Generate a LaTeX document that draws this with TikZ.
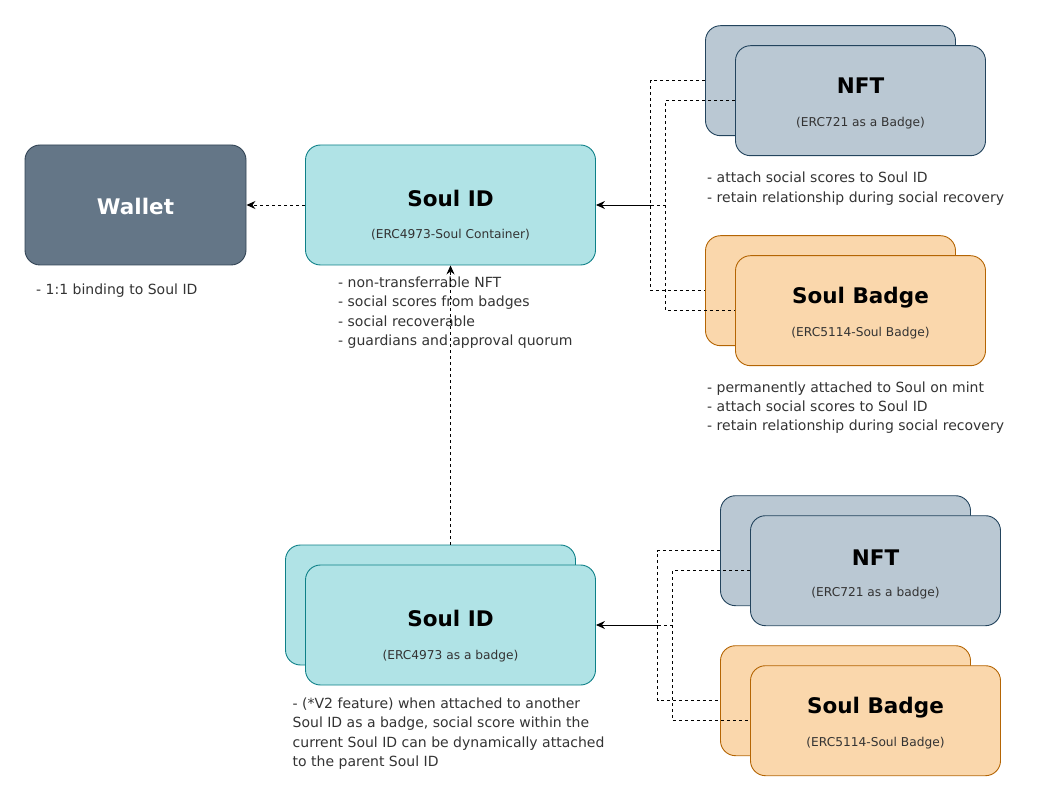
\documentclass[tikz,border=0pt]{standalone}
\usepackage{fontspec}
\setmainfont{DejaVu Sans}
\usetikzlibrary{arrows.meta}
\definecolor{walletfill}{HTML}{647687}
\definecolor{walletline}{HTML}{314354}
\definecolor{soulfill}{HTML}{B0E3E6}
\definecolor{soulline}{HTML}{0E8088}
\definecolor{nftfill}{HTML}{BAC8D3}
\definecolor{nftline}{HTML}{23445D}
\definecolor{badgefill}{HTML}{FAD7AC}
\definecolor{badgeline}{HTML}{B46504}
\begin{document}
\begin{tikzpicture}[x=1pt,y=-1pt,
	card/.style={draw, rounded corners=15pt, line width=0.9pt, minimum width=250pt, minimum height=110pt, inner sep=0pt},
	wide/.style={minimum width=290pt, minimum height=120pt},
	nftcard/.style={card, fill=nftfill, draw=nftline},
	badgecard/.style={card, fill=badgefill, draw=badgeline},
	soulcard/.style={card, wide, fill=soulfill, draw=soulline},
	title/.style={anchor=base, inner sep=0pt, font=\fontsize{21.5}{26}\selectfont\bfseries},
	sub/.style={anchor=base, inner sep=0pt, font=\fontsize{12.2}{15}\selectfont, text=black!80},
	note/.style={anchor=base west, align=left, inner sep=0pt, font=\fontsize{14}{19.5}\selectfont, text=black!80},
	tip/.style={-{Stealth[length=9pt,width=8pt,inset=3pt]}},
	link/.style={line width=0.9pt, tip},
	dashlink/.style={line width=0.9pt, dash pattern=on 3pt off 3pt}]
		\useasboundingbox (0,0) rectangle (1061,802);
		%wallet
		\node[card, fill=walletfill, draw=walletline, minimum width=221pt, minimum height=120pt] (wallet) at (135.5,205) {};
		\node[title, text=white] (walletT) at (135.5,214.3) {Wallet};
		\node[note] (walletN) at (36,294.3) {- 1:1 binding to Soul ID};
		%soul id container (notes are placed by their last line)
		\node[soulcard] (soulTop) at (450.5,205) {};
		\node[title] (soulTopT) at (450.5,206.7) {Soul ID};
		\node[sub] (soulTopS) at (450.5,239) {(ERC4973-Soul Container)};
		\node[note] (soulTopN) at (338,346) {- non-transferrable NFT\\- social scores from badges\\- social recoverable\\- guardians and approval quorum};
		%badges on the container
		\node[nftcard] (nftBackA) at (830.5,80.7) {};
		\node[nftcard] (nftFrontA) at (860.5,100.7) {};
		\node[title] (nftTA) at (860.5,94) {NFT};
		\node[sub] (nftSA) at (860.5,126.5) {(ERC721 as a Badge)};
		\node[note] (nftNA) at (707,202.3) {- attach social scores to Soul ID\\- retain relationship during social recovery};
		\node[badgecard] (badgeBackA) at (830.5,290.7) {};
		\node[badgecard] (badgeFrontA) at (860.5,310.7) {};
		\node[title] (badgeTA) at (860.5,304) {Soul Badge};
		\node[sub] (badgeSA) at (860.5,336.5) {(ERC5114-Soul Badge)};
		\node[note] (badgeNA) at (707,431) {- permanently attached to Soul on mint\\- attach social scores to Soul ID\\- retain relationship during social recovery};
		%soul id used as a badge
		\node[soulcard] (soulBack) at (430.5,605) {};
		\node[soulcard] (soulFront) at (450.5,625) {};
		\node[title] (soulFrontT) at (450.5,626.7) {Soul ID};
		\node[sub] (soulFrontS) at (450.5,659.5) {(ERC4973 as a badge)};
		\node[note] (soulFrontN) at (292.5,766.8) {- (*V2 feature) when attached to another\\Soul ID as a badge, social score within the\\current Soul ID can be dynamically attached\\to the parent Soul ID};
		%badges on the second soul id
		\node[nftcard] (nftBackB) at (845.5,550.7) {};
		\node[nftcard] (nftFrontB) at (875.5,570.7) {};
		\node[title] (nftTB) at (875.5,565) {NFT};
		\node[sub] (nftSB) at (875.5,596.5) {(ERC721 as a badge)};
		\node[badgecard] (badgeBackB) at (845.5,700.7) {};
		\node[badgecard] (badgeFrontB) at (875.5,720.7) {};
		\node[title] (badgeTB) at (875.5,713.3) {Soul Badge};
		\node[sub] (badgeSB) at (875.5,746.5) {(ERC5114-Soul Badge)};
		%junctions
		\coordinate (jA0) at (650.5,205);
		\coordinate (jA1) at (665.5,205);
		\coordinate (jB0) at (657.5,625);
		\coordinate (jB1) at (672.5,625);
		%connectors, top
		\draw[dashlink, tip] (soulTop.west) -- (wallet.east);
		\draw[dashlink] (nftBackA.west) -| (jA0) |- (badgeBackA.west);
		\draw[dashlink] (nftFrontA.west) -| (jA1) |- (badgeFrontA.west);
		\draw[dashlink] (jA1) -- (jA0);
		\draw[link] (jA0) -- (soulTop.east);
		%connectors, bottom
		\draw[dashlink, tip] (soulTop.south |- soulBack.north) -- (soulTop.south);
		\draw[dashlink] (nftBackB.west) -| (jB0) |- (badgeBackB.west);
		\draw[dashlink] (nftFrontB.west) -| (jB1) |- (badgeFrontB.west);
		\draw[dashlink] (jB1) -- (jB0);
		\draw[link] (jB0) -- (soulFront.east);
	\end{tikzpicture}
\end{document}
